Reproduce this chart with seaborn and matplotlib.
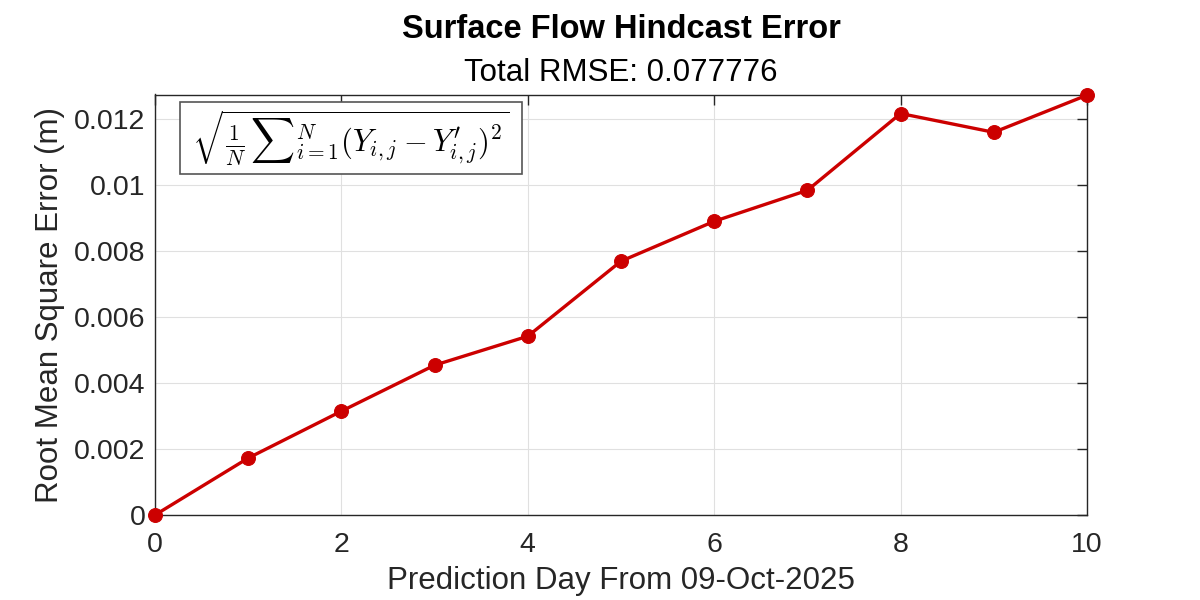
import matplotlib
matplotlib.use("Agg")
import matplotlib.pyplot as plt
from matplotlib.patches import Rectangle
import seaborn as sns
import pandas as pd

days = [0, 1, 2, 3, 4, 5, 6, 7, 8, 9, 10]
rmse = [0.0, 0.001727, 0.00315, 0.004545, 0.005424, 0.0077, 0.00891, 0.00985, 0.01218, 0.01161, 0.012737]
xticks = [0, 2, 4, 6, 8, 10]
yticks = [0, 0.002, 0.004, 0.006, 0.008, 0.01, 0.012]
ytick_labels = ["0", "0.002", "0.004", "0.006", "0.008", "0.01", "0.012"]
title = "Surface Flow Hindcast Error"
subtitle = "Total RMSE: 0.077776"
xlabel = "Prediction Day From 09-Oct-2025"
ylabel = "Root Mean Square Error (m)"
formula = r"$\sqrt{\frac{1}{N}\,\sum{}_{i=1}^{N}(Y_{i,j}-Y^{\prime}_{i,j})^2}$"

sns.set_style("white")
plt.rcParams['font.family'] = ['Liberation Sans', 'DejaVu Sans']
plt.rcParams['mathtext.fontset'] = 'cm'

df = pd.DataFrame({"day": days, "rmse": rmse})

W, H = 1200, 600
L, R, T, B = 155, 1087, 94.5, 515
fig = plt.figure(figsize=(12, 6), dpi=100)
ax = fig.add_axes([L/W, 1 - B/H, (R-L)/W, (B-T)/H])

sns.lineplot(data=df, x="day", y="rmse", ax=ax, color="#CC0000", linewidth=2.4,
             marker="o", markersize=10, markeredgecolor="#CC0000", clip_on=False, zorder=5)

ax.set_xlim(0, 10)
ax.set_ylim(0, max(rmse) + 0.00002)
ax.set_xticks(xticks)
ax.set_yticks(yticks)
ax.set_yticklabels(ytick_labels)
ax.grid(True, color="#e0e0e0", linewidth=0.8)
ax.set_axisbelow(True)
for s in ax.spines.values():
    s.set_color("#262626")
    s.set_linewidth(1.0)
ax.tick_params(direction="in", length=7, width=1.0, top=True, right=True, labelsize=20.5,
               colors="#262626")
ax.tick_params(axis="x", pad=12)
ax.tick_params(axis="y", pad=7)
ax.set_xlabel(xlabel, fontsize=22.5, color="#262626", labelpad=6)
ax.set_ylabel(ylabel, fontsize=22.5, color="#262626", labelpad=6)

cx = (L + R) / 2 / W
fig.text(cx, 1 - 30/H, title, ha="center", va="center",
         fontsize=23.5, fontweight="bold", color="black")
fig.text(cx, 1 - 73/H, subtitle, ha="center", va="center",
         fontsize=22.5, color="black")

bx0, bx1, by0, by1 = 180, 522, 101.5, 174
rect = Rectangle(((bx0-L)/(R-L), (B-by1)/(B-T)), (bx1-bx0)/(R-L), (by1-by0)/(B-T),
                 transform=ax.transAxes, facecolor="white", edgecolor="#555555",
                 linewidth=1.2, zorder=9, clip_on=False)
ax.add_patch(rect)
ax.text(((bx0+bx1)/2 - L)/(R-L), (B-(by0+by1)/2)/(B-T), formula, transform=ax.transAxes,
        ha="center", va="center", fontsize=22, color="black", zorder=10)

fig.savefig("out.png", dpi=100)
